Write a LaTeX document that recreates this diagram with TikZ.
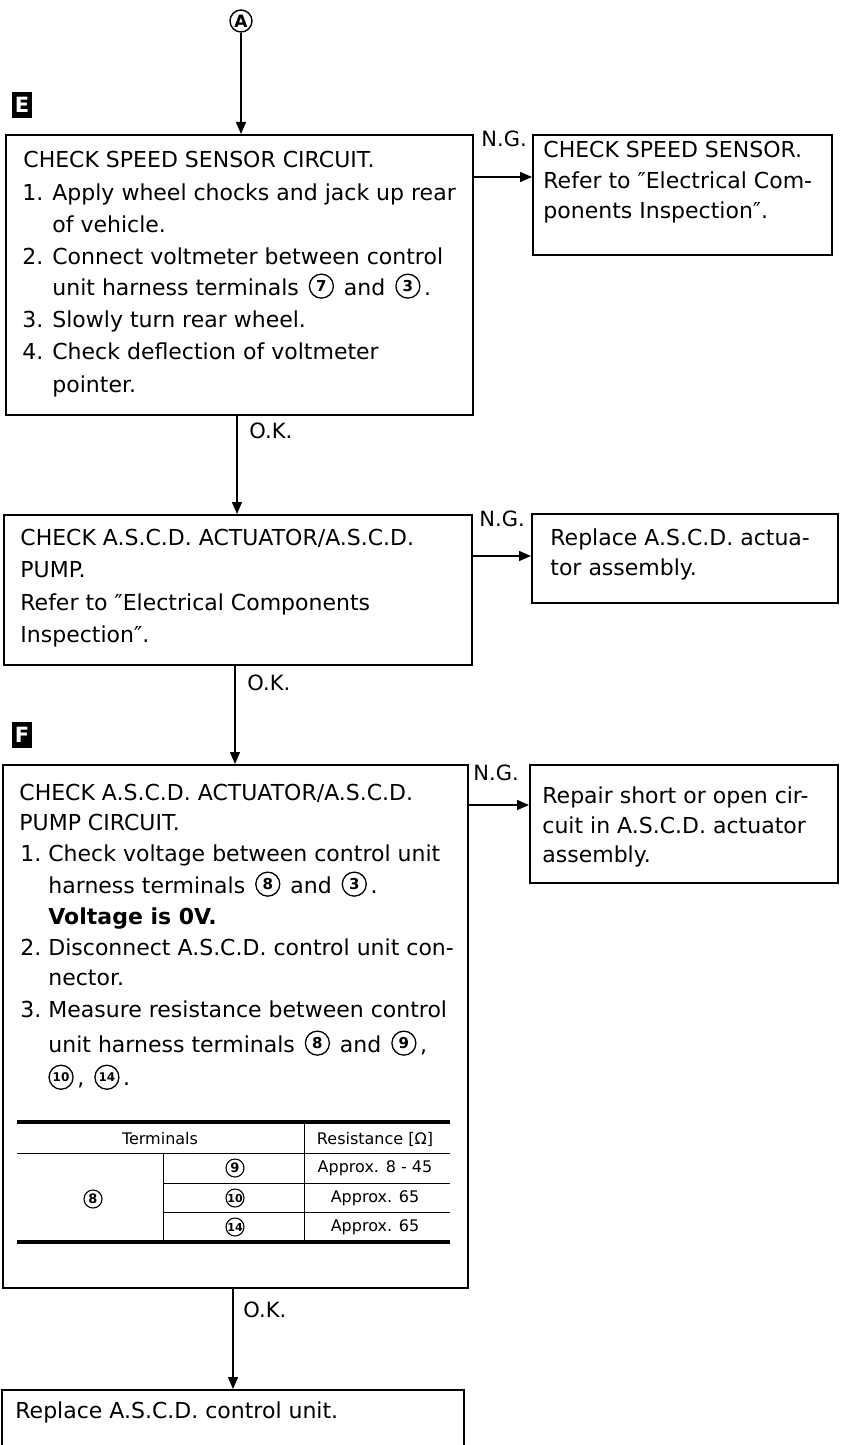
\documentclass[tikz,border=0pt]{standalone}
\usepackage{fontspec}
\setmainfont{DejaVu Sans}
\usetikzlibrary{arrows.meta,fit}
\newcommand\cnum[2][7.5pt]{\tikz[baseline={([yshift=-1.7pt]cn.base)}]\node[draw,circle,line width=0.65pt,inner sep=0pt,minimum size=12pt,font=\bfseries\fontsize{#1}{#1}\selectfont](cn){#2};}
\newcommand\tnum[2][6.5pt]{\tikz[baseline={([yshift=-1.3pt]tn.base)}]\node[draw,circle,line width=0.55pt,inner sep=0pt,minimum size=9pt,font=\bfseries\fontsize{#1}{#1}\selectfont](tn){#2};}
\newcommand\itm[3]{\makebox[#1][l]{#2}#3}
\newcommand\gap{\hspace{0.45em}}
\begin{document}
\begin{tikzpicture}[x=0.5pt,y=-0.5pt,
  box/.style={draw,line width=1pt,inner sep=0pt},
  txt/.style={anchor=base west,inner sep=0pt,font=\fontsize{11}{13}\selectfont},
  lab/.style={anchor=base west,inner sep=0pt,font=\fontsize{10.5}{12}\selectfont},
  arr/.style={line width=0.75pt,-{Triangle[length=6pt,width=5pt]}},
  tag/.style={fill=black,text=white,font=\bfseries\fontsize{10.5}{12}\selectfont,minimum width=10pt,minimum height=13pt,inner sep=0pt},
  tcell/.style={inner sep=0pt,font=\fontsize{8}{9.5}\selectfont},
  thickrule/.style={line width=2pt},
  thinrule/.style={line width=0.5pt}]
\fill[white] (0,0) rectangle (845,1445);
\useasboundingbox (0,0) rectangle (845,1445);

% columns of the vertical connectors
\coordinate (c1) at (237,0);
\coordinate (c2) at (235,0);
\coordinate (c3) at (233,0);
\coordinate (y1) at (0,177);
\coordinate (y2) at (0,556);
\coordinate (y3) at (0,805);

% top connector
\node[circle,draw,line width=0.7pt,minimum size=11pt,inner sep=0pt,font=\bfseries\fontsize{8.5}{9}\selectfont] (A) at (241,21) {A};
\node[tag] (E) at (22,105) {E};

% box 1
\node[box,fit={(6,135) (473,415)}] (b1) {};
\draw[arr] (A.south) -- (A.south |- b1.north);
\node[txt] (b1t0) at (23,168) {CHECK SPEED SENSOR CIRCUIT.};
\node[txt] (b1t1) at (22,200) {\itm{15pt}{1.}{Apply wheel chocks and jack up rear}};
\node[txt] (b1t2) at (52,232) {of vehicle.};
\node[txt] (b1t3) at (22,264) {\itm{15pt}{2.}{Connect voltmeter between control}};
\node[txt] (b1t4) at (52,295) {unit harness terminals\gap\cnum{7}\gap and\gap\cnum{3}\,.};
\node[txt] (b1t5) at (22,327) {\itm{15pt}{3.}{Slowly turn rear wheel.}};
\node[txt] (b1t6) at (22,359) {\itm{15pt}{4.}{Check deflection of voltmeter}};
\node[txt] (b1t7) at (52,392) {pointer.};

% right box 1
\node[box,fit={(533,135) (832,255)}] (r1) {};
\draw[arr] (b1.east |- y1) -- (r1.west |- y1);
\node[lab] (ng1) at (481,147) {N.G.};
\node[txt] (r1t0) at (543,157) {CHECK SPEED SENSOR.};
\node[txt] (r1t1) at (543,188) {Refer to ″Electrical Com-};
\node[txt] (r1t2) at (543,218) {ponents Inspection″.};

% box 2
\node[box,fit={(4,515) (472,665)}] (b2) {};
\draw[arr] (b1.south -| c1) -- (b2.north -| c1);
\node[lab] (ok1) at (249,438) {O.K.};
\node[txt] (b2t0) at (20,545) {CHECK A.S.C.D. ACTUATOR/A.S.C.D.};
\node[txt] (b2t1) at (20,577) {PUMP.};
\node[txt] (b2t2) at (20,610) {Refer to ″Electrical Components};
\node[txt] (b2t3) at (20,642) {Inspection″.};

% right box 2
\node[box,fit={(532,514) (838,603)}] (r2) {};
\draw[arr] (b2.east |- y2) -- (r2.west |- y2);
\node[lab] (ng2) at (479,526) {N.G.};
\node[txt] (r2t0) at (550,545) {Replace A.S.C.D. actua-};
\node[txt] (r2t1) at (550,575) {tor assembly.};

% box 3
\node[tag] (F) at (22,735) {F};
\node[box,fit={(3,765) (468,1288)}] (b3) {};
\draw[arr] (b2.south -| c2) -- (b3.north -| c2);
\node[lab] (ok2) at (247,690) {O.K.};
\node[txt] (b3t0) at (19,800) {CHECK A.S.C.D. ACTUATOR/A.S.C.D.};
\node[txt] (b3t1) at (19,830) {PUMP CIRCUIT.};
\node[txt] (b3t2) at (20,861) {\itm{14pt}{1.}{Check voltage between control unit}};
\node[txt] (b3t3) at (48,893) {harness terminals\gap\cnum{8}\gap and\gap\cnum{3}\,.};
\node[txt] (b3t4) at (48,924) {\bfseries Voltage is 0V.};
\node[txt] (b3t5) at (20,955) {\itm{14pt}{2.}{Disconnect A.S.C.D. control unit con-}};
\node[txt] (b3t6) at (48,985) {nector.};
\node[txt] (b3t7) at (20,1017) {\itm{14pt}{3.}{Measure resistance between control}};
\node[txt] (b3t8) at (48,1052) {unit harness terminals\gap\cnum{8}\gap and\gap\cnum{9}\,,};
\node[txt] (b3t9) at (48,1085) {\cnum[6pt]{10}\,,\gap\cnum[6pt]{14}\,.};

% table
\draw[thickrule] (17,1122) -- (450,1122);
\draw[thinrule] (17,1153) -- (450,1153);
\draw[thinrule] (304,1122) -- (304,1242);
\draw[thinrule] (163,1153) -- (163,1242);
\draw[thinrule] (163,1183) -- (450,1183);
\draw[thinrule] (163,1212) -- (450,1212);
\draw[thickrule] (17,1242) -- (450,1242);
\node[tcell] (th1) at (160,1139) {Terminals};
\node[tcell] (th2) at (375,1139) {Resistance [Ω]};
\node[tcell] (tc8) at (93,1199) {\tnum{8}};
\node[tcell] (tc9) at (235,1168) {\tnum{9}};
\node[tcell] (tc10) at (235,1198) {\tnum[5.5pt]{10}};
\node[tcell] (tc14) at (235,1227) {\tnum[5.5pt]{14}};
\node[tcell] (tr1) at (375,1168) {Approx. 8 - 45};
\node[tcell] (tr2) at (375,1198) {Approx. 65};
\node[tcell] (tr3) at (375,1227) {Approx. 65};

% right box 3
\node[box,fit={(530,765) (838,883)}] (r3) {};
\draw[arr] (b3.east |- y3) -- (r3.west |- y3);
\node[lab] (ng3) at (473,780) {N.G.};
\node[txt] (r3t0) at (542,803) {Repair short or open cir-};
\node[txt] (r3t1) at (542,833) {cuit in A.S.C.D. actuator};
\node[txt] (r3t2) at (542,862) {assembly.};

% bottom box (runs off the page)
\node[box,fit={(2,1390) (464,1480)}] (b4) {};
\draw[arr] (b3.south -| c3) -- (b4.north -| c3);
\node[lab] (ok3) at (243,1317) {O.K.};
\node[txt] (b4t0) at (15,1418) {Replace A.S.C.D. control unit.};
\end{tikzpicture}
\end{document}
